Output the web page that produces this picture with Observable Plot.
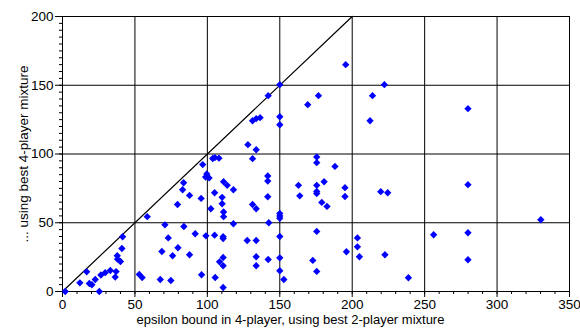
<!DOCTYPE html>
<html><head><meta charset="utf-8">
<script src="https://cdn.jsdelivr.net/npm/d3@7"></script>
<script src="https://cdn.jsdelivr.net/npm/@observablehq/plot@0.6"></script>
<style>body{margin:0;background:#fff}</style>
</head><body><div id="chart"></div>
<script>
const xTicks = [0, 50, 100, 150, 200, 250, 300, 350];
const yTicks = [0, 50, 100, 150, 200];
const xMinorStep = 10;
const yMinorStep = 5;
const diagX = [0, 200];
const diagY = [0, 200];
const xLabel = "epsilon bound in 4-player, using best 2-player mixture";
const yLabel = "... using best 4-player mixture";

const xVals = [1.9,12,16.7,18.5,20.3,22.6,25.4,26.5,29.5,33,36.4,37,37.8,38,40,41,41.5,
  53,55,58.5,
  67.5,68.6,70.7,73,74.8,76,79.7,79.4,82.9,83.6,83.8,87.7,87.7,91.6,95.7,96,96.8,99,99.6,98.8,101.2,102.4,103.7,105.2,108,105,105,105.4,
  111.2,113.7,118,110.2,110.2,111.2,111.2,118,110.9,110.9,108.4,110.9,110.9,110.9,
  128,133.7,131.2,133.7,136.4,142,150,150,150,
  131.2,141.7,141.7,141.7,131.2,133.7,142.4,150,150,150,127.5,133.7,150,133.7,133.7,142,150,150,152.8,
  162.9,163.8,169.3,176.7,175.5,175.5,188.1,175.5,175.5,175.5,180.6,179,182.6,195,195,175.5,196,172.8,175.5,195.5,
  203.6,203.6,205,212.3,214,222.2,219.7,224.5,222.6,238.8,256.2,279.9,279.9,279.9,279.9,330.2];
const yVals = [0,6.3,14.3,5.8,4.9,8.7,0,12,13.7,15.3,10.5,14.5,26,23.5,21.8,31.3,39.8,
  12.4,10.1,54.4,
  8.7,29.1,48.5,39,8,26,31.8,63.3,74,79.1,47.3,69.9,26.7,42,67.7,12.2,92.3,40.5,85.5,83.2,82.6,60.2,96.7,97.4,97,71.8,41,10.2,
  79.8,77.2,74,68.5,63.8,57.8,54.4,49.3,39.8,38.5,21.6,24.7,18.7,2.9,
  106.8,103.1,124.2,125.7,126.4,142.4,150.4,127.1,121.3,
  96.6,84,80.3,68.9,63.3,60.2,50,56.8,55,53.3,37.1,37.1,40,25.3,18.7,23.3,24.5,15.1,8.7,
  77.2,69.6,135.9,142.4,97.8,93.7,91,77.2,72.8,71.3,79.8,64.8,61.9,75.5,69.1,43.7,28.9,22.6,14.6,165,
  39,32.5,25.3,124.2,142.4,150.4,72.6,71.8,26.7,10,41.3,133,77.7,42.7,23.1,52.2];

const points = xVals.map((x, i) => ({x, y: yVals[i]}));
const xMinor = d3.range(xTicks[0], xTicks[xTicks.length - 1] + 1e-9, xMinorStep);
const yMinor = d3.range(yTicks[0], yTicks[yTicks.length - 1] + 1e-9, yMinorStep);

const chart = Plot.plot({
  width: 580, height: 334,
  marginLeft: 62, marginRight: 11, marginTop: 16, marginBottom: 43,
  style: {fontFamily: "'Liberation Sans', Arial, sans-serif", fontSize: "13px", color: "#000", background: "#fff"},
  x: {domain: [0, 350]},
  y: {domain: [0, 200]},
  marks: [
    Plot.gridX(xTicks, {stroke: "#000", strokeOpacity: 1}),
    Plot.gridY(yTicks, {stroke: "#000", strokeOpacity: 1}),
    Plot.frame({stroke: "#000"}),
    Plot.axisX(xMinor, {tickSize: 3, text: null, label: null}),
    Plot.axisY(yMinor, {tickSize: 3, text: null, label: null}),
    Plot.axisX(xTicks, {tickSize: 6, tickPadding: 2, fontSize: 13.5, label: null}),
    Plot.axisY(yTicks, {tickSize: 7, tickPadding: 2, fontSize: 13.5, label: yLabel, labelAnchor: "center", labelArrow: "none", labelOffset: 44}),
    Plot.text([xLabel], {text: d => d, frameAnchor: "bottom", lineAnchor: "middle", dx: -25.5, dy: 28, fontSize: 13, fill: "#000"}),
    Plot.line(diagX.map((x, i) => ({x, y: diagY[i]})), {x: "x", y: "y", stroke: "#000", strokeWidth: 1.2}),
    Plot.dot(points, {x: "x", y: "y", symbol: "diamond2", r: 3.3, fill: "#0000ff", stroke: "none"})
  ]
});
document.getElementById("chart").appendChild(chart);
</script>
</body></html>
